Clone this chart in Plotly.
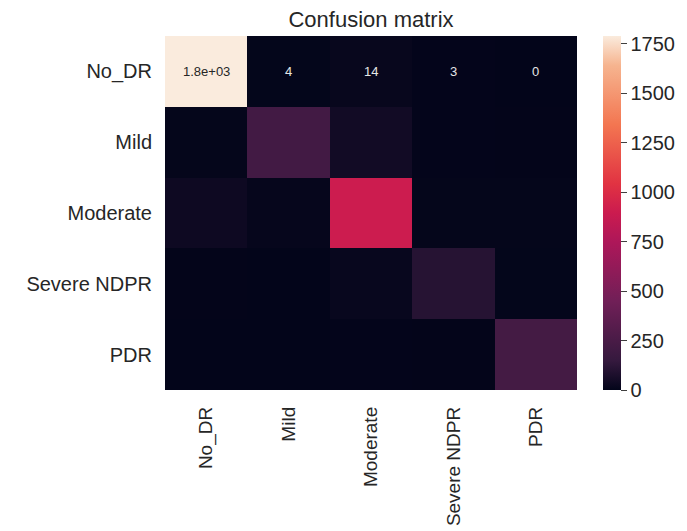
import plotly.graph_objects as go

labels = ["No_DR", "Mild", "Moderate", "Severe NDPR", "PDR"]

row_no_dr = [1790, 4, 14, 3, 0]
row_mild = [6, 215, 45, 3, 2]
row_moderate = [33, 8, 900, 6, 5]
row_severe = [2, 1, 15, 105, 4]
row_pdr = [1, 1, 3, 2, 225]

z = [row_no_dr, row_mild, row_moderate, row_severe, row_pdr]
annotated_rows = [0]

cbar_ticks = [0, 250, 500, 750, 1000, 1250, 1500, 1750]
zmax = 1790

rocket = [
    [0.0, "#03051A"], [0.083, "#35193E"], [0.25, "#701F57"],
    [0.417, "#AD1759"], [0.5, "#CB1B4F"], [0.583, "#E13342"],
    [0.75, "#F37651"], [0.917, "#F6B48F"], [1.0, "#FAEBDD"],
]

font_family = "Liberation Sans, Arial, sans-serif"
txt_color = "#262626"

# page has an 8px body offset; margins compensate so the plot sits where the reference does
fig = go.Figure(go.Heatmap(
    z=z, x=labels, y=labels, zmin=0, zmax=zmax,
    colorscale=rocket, showscale=True,
    colorbar=dict(
        tickvals=cbar_ticks, ticks="outside", ticklen=6, tickwidth=1.2,
        tickcolor="#404040", outlinewidth=0, thickness=18, len=1.0,
        lenmode="fraction", x=1.063, xanchor="left", xpad=0, ypad=0,
        y=0.5, yanchor="middle",
        tickfont=dict(family=font_family, size=20, color=txt_color),
    ),
    hoverinfo="skip",
))

for r in annotated_rows:
    for c, v in enumerate(z[r]):
        fig.add_annotation(
            x=labels[c], y=labels[r], text=f"{v:.2g}", showarrow=False,
            font=dict(family=font_family, size=13,
                      color=txt_color if v > 0.6 * zmax else "#e6e6e6"),
        )

fig.update_layout(
    width=687, height=531,
    margin=dict(l=157, r=118, t=28, b=149, autoexpand=False),
    paper_bgcolor="white", plot_bgcolor="white",
    title=dict(text="Confusion matrix", x=0.5, xref="paper",
               y=1 - 11 / 531, yref="container", yanchor="middle",
               font=dict(family=font_family, size=22, color=txt_color)),
    xaxis=dict(tickangle=-90, ticks="", ticklabelstandoff=12, automargin=False,
               tickfont=dict(family=font_family, size=19, color=txt_color),
               showgrid=False, zeroline=False, showline=False),
    yaxis=dict(autorange="reversed", ticks="", ticklabelstandoff=12, automargin=False,
               tickfont=dict(family=font_family, size=20, color=txt_color),
               showgrid=False, zeroline=False, showline=False),
)

fig.write_html("out.html")
